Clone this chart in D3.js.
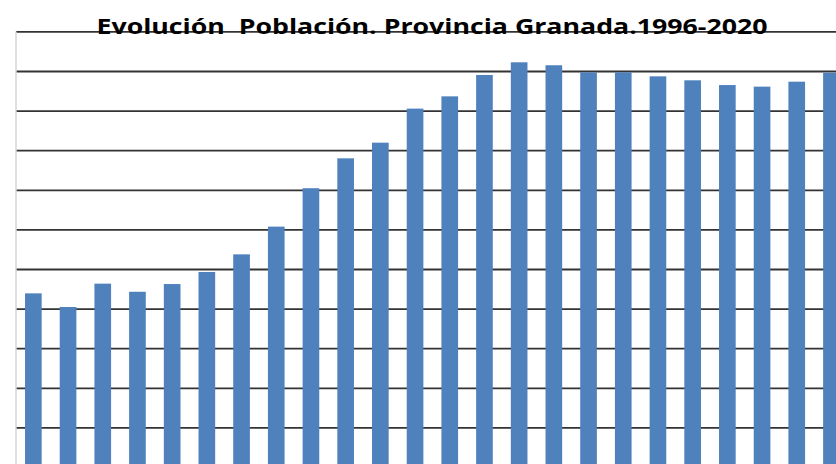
<!DOCTYPE html>
<html>
    <head>
        <meta charset="utf-8">
        <script src="https://cdn.jsdelivr.net/npm/d3@7/dist/d3.min.js" type="text/javascript"></script>
        <style>
            body { margin: 0; background: #fff; }
            svg { display: block; }
        </style>
    </head>
    <body>
    </body>
    <script>
        var width = 836;
        var height = 464;

        // years shown (no padron in 1997)
        var years = ["1996","1998","1999","2000","2001","2002","2003","2004","2005","2006","2007","2008",
                     "2009","2010","2011","2012","2013","2014","2015","2016","2017","2018","2019","2020"];
        // population
        var poblacion = [807700, 800800, 812600, 808500, 812400, 818500, 827400, 841400, 860800, 875900, 883800, 901000,
                         907200, 918000, 924400, 922900, 919300, 919300, 917300, 915300, 912900, 912100, 914600, 919100];
        var gridTicks = d3.range(700000, 940001, 20000);
        var title = "Evolución  Población. Provincia Granada.1996-2020";

        var svg = d3.select("body").append("svg")
                                   .attr("width", width)
                                   .attr("height", height);

        // plot area is wider than the picture, last bar gets cut at the edge
        var plotLeft = 16;
        var plotRight = 848.8;
        var x = d3.scaleBand()
                  .domain(years)
                  .range([plotLeft, plotRight])
                  .paddingInner(0.52)
                  .paddingOuter(0.26);

        var y = d3.scaleLinear()
                  .domain([700000, 940000])
                  .range([506.6, 31.4]);

        // horizontal gridlines
        var grid = svg.append("g")
                      .attr("transform", "translate(" + plotLeft + ",0)")
                      .call(d3.axisLeft(y).tickValues(gridTicks).tickSize(-(plotRight - plotLeft)).tickFormat(""));
        grid.select(".domain").remove();
        grid.selectAll(".tick line")
            .attr("stroke", "#333333")
            .attr("stroke-width", 1.8);

        // vertical axis line
        svg.append("line")
           .attr("x1", plotLeft).attr("x2", plotLeft)
           .attr("y1", y(940000)).attr("y2", height)
           .attr("stroke", "#d4d4d4")
           .attr("stroke-width", 1.5);

        // bars
        svg.append("g").selectAll("rect")
           .data(years)
           .enter().append("rect")
           .attr("x", function(d){ return x(d); })
           .attr("width", x.bandwidth())
           .attr("y", function(d, i){ return y(poblacion[i]); })
           .attr("height", function(d, i){ return y(700000) - y(poblacion[i]); })
           .attr("fill", "#4f81bd");

        // title (keep the double space)
        svg.append("text")
           .attr("x", 432)
           .attr("y", 34)
           .attr("text-anchor", "middle")
           .attr("font-family", "'Open Sans', sans-serif")
           .attr("font-weight", "bold")
           .attr("font-size", "22px")
           .attr("textLength", 671)
           .attr("lengthAdjust", "spacingAndGlyphs")
           .attr("fill", "#000")
           .style("white-space", "pre")
           .text(title);
    </script>
</html>
